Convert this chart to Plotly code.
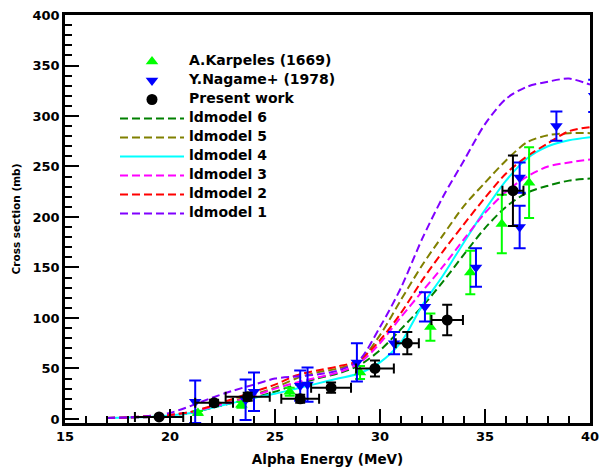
import plotly.graph_objects as go

# ---------------- data ----------------
model_E = [17, 18, 19, 20, 21, 22, 23, 24, 25, 26, 27, 28, 29, 30, 31, 32, 33, 34, 35, 36, 37, 38, 39, 40]
ld1 = [1, 1.5, 3, 6, 13, 21, 28, 34, 40, 42, 44, 48, 58, 91, 130, 178, 220, 256, 292, 317, 329, 334, 337, 331]
ld2 = [1, 1.5, 3, 4, 7, 13, 20, 27, 34, 43, 48, 52, 58, 78, 105, 137, 166, 193, 219, 243, 260, 273, 285, 289]
ld3 = [1, 1.5, 2, 4, 7, 12, 17, 23, 30, 36, 41, 46, 55, 75, 101, 126, 151, 178, 204, 225, 240, 250, 254, 257]
ld4 = [1, 1.5, 2, 3.5, 6, 11, 16, 21, 25, 30, 35, 40, 45, 56, 76, 112, 142, 175, 207, 236, 258, 270, 276, 279]
ld5 = [1, 1.5, 2, 4, 7, 12, 18, 24, 31, 40, 46, 50, 57, 83, 118, 152, 182, 211, 234, 256, 274, 281, 283, 283]
ld6 = [1, 1.5, 2, 3.5, 6, 11, 16, 21, 27, 34, 40, 45, 53, 68, 89, 111, 136, 163, 189, 210, 224, 231, 236, 238]

karp_E = [21.33, 23.4, 25.7, 29.05, 32.4, 34.3, 35.8, 37.1]
karp_S = [6, 14, 27, 46, 91, 145, 193, 234]
karp_dS = [2, 3, 4, 6.5, 13.5, 21.5, 29, 35]

nag_E = [21.2, 23.6, 24.0, 26.2, 26.55, 28.9, 30.67, 32.14, 34.57, 36.65, 36.65, 38.4, 40.2]
nag_S = [17, 19, 27, 33, 34, 56, 75, 111, 150, 239, 190, 290, 320]
nag_dS = [21, 20, 19, 15, 17, 19, 11, 14.5, 19, 15, 21, 14.5, 16]

pw_E = [19.48, 22.1, 23.7, 26.2, 27.67, 29.76, 31.3, 33.2, 36.33]
pw_S = [2, 16, 22, 20, 31, 50, 75, 98, 226]
pw_dE = [1.15, 0.9, 1.05, 0.9, 0.95, 0.9, 0.55, 0.75, 0.5]
pw_dS = [1, 3, 4, 4, 5, 8, 11, 15, 35]

models = [
    ("ldmodel 6", ld6, "#008000", "8px,4px", 4),
    ("ldmodel 5", ld5, "#808000", "8px,4px", 5),
    ("ldmodel 4", ld4, "#00ffff", "solid", 6),
    ("ldmodel 3", ld3, "#ff00ff", "8px,4px", 7),
    ("ldmodel 2", ld2, "#ff0000", "8px,4px", 8),
    ("ldmodel 1", ld1, "#8000ff", "8px,4px", 9),
]


def lbl(t):
    return '<span style="font-size:14px">' + t + '</span>'


fig = go.Figure()
for name, ys, col, dash, rank in models:
    fig.add_trace(go.Scatter(
        x=model_E, y=ys, mode="lines", name=lbl(name), legendrank=rank,
        line=dict(color=col, width=2, dash=dash, shape="spline", smoothing=0.8),
    ))

fig.add_trace(go.Scatter(
    x=karp_E, y=karp_S, mode="markers", name=lbl("A.Karpeles (1669)"), legendrank=1,
    marker=dict(symbol="triangle-up", color="#00ff00", size=11),
    error_y=dict(type="data", array=karp_dS, color="#00ff00", thickness=2, width=5),
))
fig.add_trace(go.Scatter(
    x=nag_E, y=nag_S, mode="markers", name=lbl("Y.Nagame+ (1978)"), legendrank=2,
    marker=dict(symbol="triangle-down", color="#0000ff", size=11),
    error_y=dict(type="data", array=nag_dS, color="#0000ff", thickness=2, width=6),
))
fig.add_trace(go.Scatter(
    x=pw_E, y=pw_S, mode="markers", name=lbl("Present work"), legendrank=3,
    marker=dict(symbol="circle", color="#000000", size=11),
    error_y=dict(type="data", array=pw_dS, color="#000000", thickness=2, width=5),
    error_x=dict(type="data", array=pw_dE, color="#000000", thickness=2, width=5),
))

font_family = "DejaVu Sans"
fig.update_layout(
    width=600, height=469,
    margin=dict(l=65, r=10, t=15, b=46, autoexpand=False),
    paper_bgcolor="white", plot_bgcolor="white",
    font=dict(family=font_family, color="black", size=13),
    legend=dict(
        x=(115 - 65) / 525, y=(423 - 47) / 408, xanchor="left", yanchor="top",
        bgcolor="rgba(0,0,0,0)", borderwidth=0, itemwidth=64,
        font=dict(family=font_family, size=8, color="black", weight="bold"),
        tracegroupgap=0,
    ),
    showlegend=True,
)
fig.update_xaxes(
    range=[15, 40], showgrid=False, zeroline=False, automargin=False,
    showline=True, linecolor="black", linewidth=2.5, mirror=True,
    ticks="inside", ticklen=14, tickwidth=2, tickcolor="black",
    tick0=15, dtick=5,
    minor=dict(ticks="inside", ticklen=7, tickwidth=2, tickcolor="black", dtick=1, showgrid=False),
    tickfont=dict(family=font_family, size=13, weight="bold"),
    title=dict(text="Alpha Energy (MeV)", font=dict(family=font_family, size=13.5, weight="bold"), standoff=12),
)
fig.update_yaxes(
    range=[-4, 400], showgrid=False, zeroline=False, automargin=False,
    showline=True, linecolor="black", linewidth=2.5, mirror=True,
    ticks="inside", ticklen=14, tickwidth=2, tickcolor="black",
    tick0=0, dtick=50,
    minor=dict(ticks="inside", ticklen=7, tickwidth=2, tickcolor="black", dtick=10, showgrid=False),
    tickfont=dict(family=font_family, size=13, weight="bold"),
    title=dict(text="Cross section (mb)", font=dict(family=font_family, size=10.5, weight="bold"), standoff=10),
)

fig.write_html("out.html")
